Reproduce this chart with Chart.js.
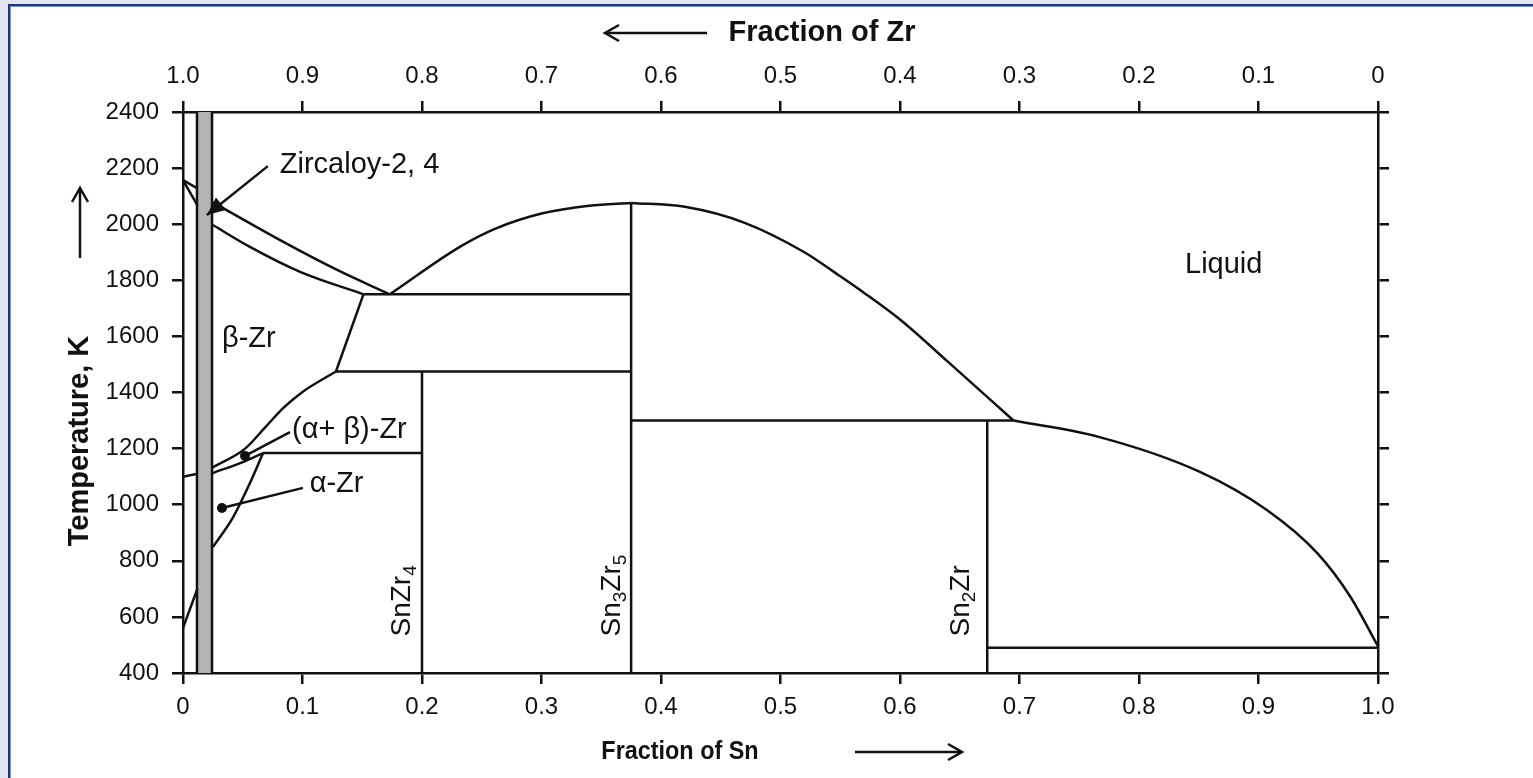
<!DOCTYPE html>
<html>
<head>
<meta charset="utf-8">
<title>Zr-Sn phase diagram</title>
<script src="https://cdn.jsdelivr.net/npm/chart.js@4.4.0/dist/chart.umd.min.js"></script>
<style>
  html, body { margin: 0; padding: 0; width: 1533px; height: 778px; overflow: hidden; background: #e3e8f0; }
  #panel { position: absolute; left: 8px; top: 4px; width: 1540px; height: 790px; background: #fff; border: 2px solid #1d3878; box-shadow: inset 1px 1px 0 #7d99cf; }
  #myChart { position: absolute; left: 0; top: 0; }
</style>
</head>
<body>
<div id="panel"></div>
<canvas id="myChart" width="1533" height="778"></canvas>
<script>
// x = fraction of Sn, y = temperature in K
let yTicks = [400, 600, 800, 1000, 1200, 1400, 1600, 1800, 2000, 2200, 2400];
let snTickLabels = ["0", "0.1", "0.2", "0.3", "0.4", "0.5", "0.6", "0.7", "0.8", "0.9", "1.0"];
let zrTickLabels = ["1.0", "0.9", "0.8", "0.7", "0.6", "0.5", "0.4", "0.3", "0.2", "0.1", "0"];

// Zircaloy composition band
let bandLeft = 0.0117;
let bandRight = 0.0243;

// curved boundaries
let liquidusZr = [[0.025, 2078], [0.084, 1937], [0.129, 1837], [0.173, 1750]];
let solidusBeta = [[0.025, 1997], [0.056, 1919], [0.098, 1830], [0.151, 1750]];
let liquidusRise = [[0.173, 1750], [0.232, 1920], [0.262, 1985], [0.30, 2038], [0.34, 2066], [0.375, 2076]];
let liquidusFall = [[0.375, 2076], [0.42, 2062], [0.47, 2005], [0.52, 1900], [0.548, 1820], [0.57, 1755], [0.60, 1660], [0.64, 1510], [0.695, 1300]];
let liquidusSn = [[0.695, 1300], [0.767, 1241], [0.851, 1117], [0.907, 981], [0.949, 828], [0.977, 671], [1.0, 495]];
let betaTransus = [[0.025, 1133], [0.052, 1200], [0.068, 1272], [0.084, 1345], [0.10, 1402], [0.128, 1475]];
let alphaTransus = [[0.025, 1113], [0.050, 1152], [0.067, 1184]];
let alphaSolvus = [[0.025, 849], [0.042, 956], [0.056, 1077], [0.067, 1184]];

// straight boundaries
let zrMeltA = [[0, 2157], [0.012, 2128]];
let zrMeltB = [[0, 2157], [0.012, 2068]];
let zrAlphaLeft = [[0, 1100], [0.012, 1110]];
let zrLowLeft = [[0, 560], [0.012, 700]];
let eutectic1750 = [[0.151, 1750], [0.375, 1750]];
let betaEdge = [[0.151, 1750], [0.128, 1475]];
let peritectic1475 = [[0.128, 1475], [0.375, 1475]];
let eutectoid1184 = [[0.067, 1184], [0.2, 1184]];
let peritectic1300 = [[0.375, 1300], [0.695, 1300]];
let eutectic490 = [[0.673, 490], [1.0, 490]];
let snZr4Line = [[0.2, 400], [0.2, 1475]];
let sn3Zr5Line = [[0.375, 400], [0.375, 2076]];
let sn2ZrLine = [[0.673, 400], [0.673, 1300]];
let bandEdgeL = [[bandLeft, 400], [bandLeft, 2400]];
let bandEdgeR = [[bandRight, 400], [bandRight, 2400]];

let markerDots = [[0.0519, 1174], [0.0326, 988]];

let curves = [liquidusZr, solidusBeta, liquidusRise, liquidusFall, liquidusSn, betaTransus, alphaTransus, alphaSolvus];
let straights = [zrMeltA, zrMeltB, zrAlphaLeft, zrLowLeft, eutectic1750, betaEdge, peritectic1475, eutectoid1184,
  peritectic1300, eutectic490, snZr4Line, sn3Zr5Line, sn2ZrLine, bandEdgeL, bandEdgeR];

const INK = "#111";
const LW = 2.5;
const FONT = "'Liberation Sans', Arial, Helvetica, sans-serif";

function pts(arr) {
  return arr.map(p => ({ x: p[0], y: p[1] }));
}

let datasets = [];
for (let i = 0; i < curves.length; i++) {
  datasets.push({ data: pts(curves[i]), borderColor: INK, borderWidth: LW, pointRadius: 0, cubicInterpolationMode: "monotone", fill: false });
}
for (let i = 0; i < straights.length; i++) {
  datasets.push({ data: pts(straights[i]), borderColor: INK, borderWidth: LW, pointRadius: 0, tension: 0, fill: false });
}
datasets.push({ data: pts(markerDots), showLine: false, pointRadius: 5, pointBackgroundColor: INK, pointBorderWidth: 0 });
// gray band, filled down to the scale start
datasets.push({ data: pts([[bandLeft, 2400], [bandRight, 2400]]), borderWidth: 0, pointRadius: 0, fill: "start", backgroundColor: "#b3b3b3", order: 10 });

// in-plot labels: [text, x, T]
let plainLabels = [
  ["Zircaloy-2, 4", 0.081, 2211],
  ["\u03b2-Zr", 0.0326, 1591],
  ["(\u03b1+ \u03b2)-Zr", 0.0912, 1266],
  ["\u03b1-Zr", 0.106, 1074],
  ["Liquid", 0.8385, 1854]
];
// rotated compound labels: [parts, x of baseline, T at start]
let compoundLabels = [
  [[["Sn", 0], ["Zr", 0], ["4", 1]], 0.190, 530],
  [[["Sn", 0], ["3", 1], ["Zr", 0], ["5", 1]], 0.3656, 530],
  [[["Sn", 0], ["2", 1], ["Zr", 0]], 0.658, 530]
];
let pointerLines = [
  [[0.0519, 1174], [0.0895, 1259]],
  [[0.0326, 988], [0.1004, 1060]]
];
let zircArrow = [[0.071, 2207], [0.020, 2033]];

function arrowHead(ctx, x1, y1, x2, y2, len, half, filled) {
  let a = Math.atan2(y2 - y1, x2 - x1);
  ctx.beginPath();
  ctx.moveTo(x2 - len * Math.cos(a) + half * Math.sin(a), y2 - len * Math.sin(a) - half * Math.cos(a));
  ctx.lineTo(x2, y2);
  ctx.lineTo(x2 - len * Math.cos(a) - half * Math.sin(a), y2 - len * Math.sin(a) + half * Math.cos(a));
  if (filled) {
    ctx.closePath();
    ctx.fill();
  } else {
    ctx.stroke();
  }
}

function arrow(ctx, x1, y1, x2, y2, len, half, filled) {
  ctx.beginPath();
  ctx.moveTo(x1, y1);
  ctx.lineTo(x2, y2);
  ctx.stroke();
  arrowHead(ctx, x1, y1, x2, y2, len, half, filled);
}

let annotate = {
  id: "annotate",
  afterDraw(chart) {
    let ctx = chart.ctx;
    let xs = chart.scales.x;
    let ys = chart.scales.y;
    ctx.save();
    ctx.fillStyle = INK;
    ctx.strokeStyle = INK;
    ctx.lineWidth = LW;

    // labels inside the plot
    ctx.font = "29px " + FONT;
    ctx.textBaseline = "middle";
    ctx.textAlign = "left";
    plainLabels.forEach(l => ctx.fillText(l[0], xs.getPixelForValue(l[1]), ys.getPixelForValue(l[2])));

    compoundLabels.forEach(l => {
      ctx.save();
      ctx.translate(xs.getPixelForValue(l[1]), ys.getPixelForValue(l[2]));
      ctx.rotate(-Math.PI / 2);
      ctx.textBaseline = "alphabetic";
      let pos = 0;
      l[0].forEach(part => {
        ctx.font = (part[1] ? "19px " : "28px ") + FONT;
        ctx.fillText(part[0], pos, part[1] ? 6 : 0);
        pos += ctx.measureText(part[0]).width;
      });
      ctx.restore();
    });

    pointerLines.forEach(p => {
      ctx.beginPath();
      ctx.moveTo(xs.getPixelForValue(p[0][0]), ys.getPixelForValue(p[0][1]));
      ctx.lineTo(xs.getPixelForValue(p[1][0]), ys.getPixelForValue(p[1][1]));
      ctx.stroke();
    });

    arrow(ctx, xs.getPixelForValue(zircArrow[0][0]), ys.getPixelForValue(zircArrow[0][1]),
      xs.getPixelForValue(zircArrow[1][0]), ys.getPixelForValue(zircArrow[1][1]), 18, 8, true);

    // axis titles with direction arrows
    ctx.textAlign = "center";
    ctx.textBaseline = "middle";
    ctx.font = "bold 29px " + FONT;
    ctx.fillText("Fraction of Zr", 822, 33);
    arrow(ctx, 707, 33, 605, 33, 14, 8, false);

    ctx.save();
    ctx.translate(680, 752);
    ctx.scale(0.9, 1);
    ctx.font = "bold 26px " + FONT;
    ctx.fillText("Fraction of Sn", 0, 0);
    ctx.restore();
    arrow(ctx, 855, 752, 962, 752, 14, 8, false);

    ctx.save();
    ctx.translate(80, 441);
    ctx.rotate(-Math.PI / 2);
    ctx.font = "bold 29px " + FONT;
    ctx.fillText("Temperature, K", 0, 0);
    ctx.restore();
    arrow(ctx, 80, 258, 80, 188, 14, 8, false);
    ctx.restore();
  }
};

function axisStyle(extra) {
  return Object.assign({
    type: "linear",
    border: { display: true, color: INK, width: LW },
    grid: { drawOnChartArea: false, drawTicks: true, tickLength: 11, color: INK, lineWidth: LW }
  }, extra);
}

let ctx = document.getElementById("myChart").getContext("2d");
let chart = new Chart(ctx, {
  type: "line",
  data: { datasets: datasets },
  plugins: [annotate],
  options: {
    responsive: false,
    animation: false,
    devicePixelRatio: 1,
    layout: { padding: 0 },
    plugins: { legend: { display: false }, tooltip: { enabled: false } },
    scales: {
      x: axisStyle({
        position: "bottom", min: 0, max: 1,
        ticks: { stepSize: 0.1, padding: 9, color: INK, font: { family: FONT, size: 24 }, maxRotation: 0,
          callback: (v, i) => snTickLabels[i] },
        afterFit: s => { s.height = 105; }
      }),
      x2: axisStyle({
        position: "top", min: 0, max: 1, reverse: true,
        ticks: { stepSize: 0.1, padding: 10, color: INK, font: { family: FONT, size: 24 }, maxRotation: 0,
          callback: (v, i) => zrTickLabels[i] },
        afterFit: s => { s.height = 112; }
      }),
      y: axisStyle({
        position: "left", min: 400, max: 2400,
        ticks: { stepSize: 200, padding: 13, color: INK, font: { family: FONT, size: 24 },
          callback: (v, i) => String(yTicks[i]) },
        afterFit: s => { s.width = 183; }
      }),
      y2: axisStyle({
        position: "right", min: 400, max: 2400,
        ticks: { stepSize: 200, callback: () => "" },
        afterFit: s => { s.width = 155; }
      })
    }
  }
});
</script>
</body>
</html>
